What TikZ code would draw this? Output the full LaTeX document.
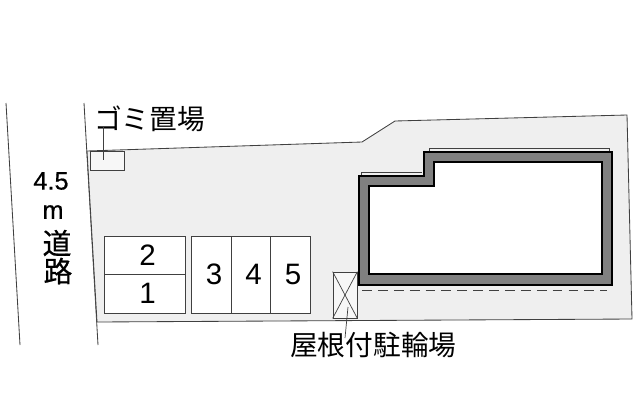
\documentclass[tikz,border=0pt]{standalone}
\usepackage{fontspec}
\setmainfont{Liberation Sans}
\newfontfamily\jpfont{Noto Sans CJK JP}
\newfontfamily\jpheavy[FakeBold=0.6]{Noto Sans CJK JP}
\newfontfamily\numheavy[FakeBold=0.6]{Liberation Sans}
\definecolor{lotgray}{HTML}{EFEFEF}
\definecolor{wallgray}{HTML}{808080}
\definecolor{edgegray}{HTML}{404040}
\newcommand{\baynum}[1]{\hspace*{1.5mm}#1}

\begin{document}
\begin{tikzpicture}[x=0.25mm,y=-0.25mm]
  \tikzset{bay/.style={draw=edgegray,fill=white,line width=0.7pt,inner sep=0pt,font=\fontsize{21}{22}\selectfont},
           boundary/.style={draw=edgegray,line width=0.6pt},
           leader/.style={draw=edgegray,line width=0.5pt},
           caption/.style={inner sep=0pt,font=\fontsize{19.7}{22}\selectfont\jpfont},
           roadtext/.style={inner sep=0pt,font=\fontsize{18}{22}\selectfont\numheavy},
           roadkanji/.style={inner sep=0pt,font=\fontsize{20.5}{22}\selectfont\jpheavy}}
  \useasboundingbox (0,0) rectangle (640,400);
  \fill[white] (0,0) rectangle (640,400);
  % road
  \draw[boundary] (6,103) -- (20,345);
  \draw[boundary] (84,103) -- (98,345);
  \node[roadtext] (width) at (51,181) {4.5};
  \node[roadtext] (unit) at (53,212) {m};
  \node[roadkanji] (roadA) at (57,243) {道};
  \node[roadkanji] (roadB) at (58,271) {路};
  % lot
  \draw[boundary,fill=lotgray] (87,151) -- (362,142) -- (395,121) -- (627,115) -- (632,319) -- (97,322) -- cycle;
  % building
  \draw[line width=1.4pt,fill=wallgray] (359,176) -- (424,176) -- (424,152) -- (612,152) -- (612,285) -- (359,285) -- cycle;
  \draw[line width=1.4pt,fill=white] (369,186) -- (434,186) -- (434,162) -- (602,162) -- (602,274) -- (369,274) -- cycle;
  \draw[edgegray,line width=0.5pt] (361,175) -- (361,172) -- (422,172);
  \draw[edgegray,line width=0.5pt] (429,151) -- (429,148) -- (609,148) -- (609,151);
  \draw[edgegray,line width=0.6pt,dash pattern=on 7pt off 4.3pt] (362,290) -- (607,290);
  % parking
  \node[bay,minimum width=20.25mm,minimum height=9.5mm] (bayB) at (144.5,255) {\baynum{2}};
  \node[bay,minimum width=20.25mm,minimum height=9.75mm] (bayA) at (144.5,293.5) {\baynum{1}};
  \node[bay,minimum width=10mm,minimum height=19.25mm] (bayC) at (211,274.5) {\baynum{3}};
  \node[bay,minimum width=9.75mm,minimum height=19.25mm] (bayD) at (250.5,274.5) {\baynum{4}};
  \node[bay,minimum width=10mm,minimum height=19.25mm] (bayE) at (290,274.5) {\baynum{5}};
  % dust box
  \node[draw=edgegray,fill=lotgray!50,line width=0.5pt,minimum width=8.5mm,minimum height=4.75mm,inner sep=0pt] (dustbox) at (107,160.5) {};
  \node[caption,anchor=west] (dustlabel) at (94,119) {ゴミ置場};
  \coordinate (dustend) at (103,160);
  \draw[leader] (103,127) -- (dustend);
  % bicycle shed
  \node[draw=edgegray,fill=lotgray!50,line width=0.5pt,minimum width=6mm,minimum height=11.5mm,inner sep=0pt] (shed) at (345,295) {};
  \draw[leader] (shed.north west) -- (shed.south east);
  \draw[leader] (shed.north east) -- (shed.south west);
  \node[caption,anchor=west] (shedlabel) at (290,345) {屋根付駐輪場};
  \coordinate (shedend) at (348,307);
  \draw[leader] (shedend) -- (345,338);
\end{tikzpicture}
\end{document}
